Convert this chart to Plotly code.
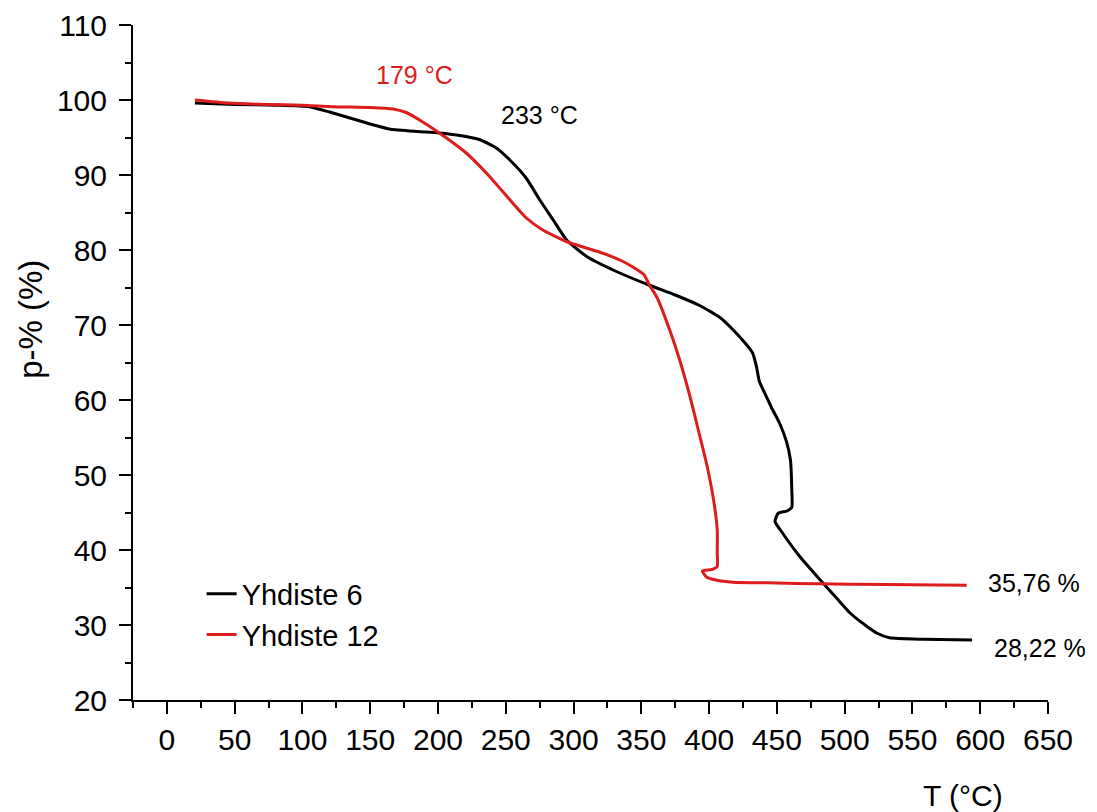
import plotly.graph_objects as go

# Yhdiste 6 (black)
t6 = [20.7, 50, 80, 105, 120, 135, 150, 165, 185, 201, 215, 231, 243, 253, 265, 275, 285, 295,
      310, 332, 356, 375, 393, 408, 418, 427, 432, 435, 437, 440, 446, 452, 457, 460, 461, 461,
      457.5, 451, 448.6, 454, 467, 482, 494, 504, 515, 524, 533, 558, 594]
p6 = [99.6, 99.4, 99.3, 99.1, 98.4, 97.6, 96.8, 96.1, 95.8, 95.6, 95.3, 94.7, 93.6, 92.0, 89.6,
      86.7, 84.0, 81.3, 79.1, 77.1, 75.3, 74.0, 72.6, 71.0, 69.3, 67.5, 66.3, 64.4, 62.5, 61.3,
      59.0, 56.9, 54.5, 52.0, 48.0, 45.7, 45.2, 44.9, 43.8, 42.3, 39.1, 36.0, 33.6, 31.6, 30.0,
      28.9, 28.3, 28.1, 28.0]

# Yhdiste 12 (red)
t12 = [20.7, 45, 74, 100, 122.5, 150, 167, 177, 186.7, 201, 221, 237, 253, 265, 277, 295, 319.5,
       335, 344, 352, 356, 361.5, 371, 378, 386, 392, 398, 403, 406, 406, 406, 402, 395, 398, 405,
       417.6, 450, 479.6, 530, 590]
p12 = [100.0, 99.6, 99.4, 99.3, 99.1, 99.0, 98.8, 98.3, 97.3, 95.6, 92.9, 90.0, 86.7, 84.3, 82.7,
       81.1, 79.7, 78.6, 77.7, 76.7, 75.3, 73.7, 69.3, 65.5, 60.4, 56.0, 51.6, 47.0, 42.7, 39.5,
       37.8, 37.4, 37.2, 36.4, 36.0, 35.7, 35.6, 35.5, 35.4, 35.3]

series_names = ["Yhdiste 6", "Yhdiste 12"]
series_colors = ["#000000", "#dd1c1c"]

x_ticks = list(range(0, 651, 50))
y_ticks = list(range(20, 111, 10))

FONT = "Liberation Sans, Arial, sans-serif"

fig = go.Figure()
fig.add_trace(go.Scatter(x=t6, y=p6, mode="lines", name=series_names[0],
                         line=dict(color=series_colors[0], width=3, shape="spline", smoothing=0.5)))
fig.add_trace(go.Scatter(x=t12, y=p12, mode="lines", name=series_names[1],
                         line=dict(color=series_colors[1], width=3, shape="spline", smoothing=0.5)))

axis_common = dict(showgrid=False, zeroline=False, showline=True, linecolor="black", linewidth=2,
                   ticks="outside", ticklen=12, tickwidth=2, tickcolor="black", automargin=False,
                   tickfont=dict(family=FONT, size=30, color="black"))

fig.update_xaxes(range=[-25, 650], tickvals=x_ticks, ticktext=[str(v) for v in x_ticks],
                 minor=dict(dtick=25, tick0=-25, ticks="outside", ticklen=6, tickwidth=2, tickcolor="black"),
                 **axis_common)
fig.update_yaxes(range=[20, 110], tickvals=y_ticks, ticktext=[str(v) for v in y_ticks],
                 ticklabelstandoff=6,
                 minor=dict(dtick=5, tick0=20, ticks="outside", ticklen=6, tickwidth=2, tickcolor="black"),
                 **axis_common)

fig.add_annotation(x=183, y=103.3, text="179 °C", showarrow=False,
                   font=dict(family=FONT, size=25, color=series_colors[1]))
fig.add_annotation(x=275, y=98, text="233 °C", showarrow=False,
                   font=dict(family=FONT, size=25, color="black"))
fig.add_annotation(x=640, y=35.6, text="35,76 %", showarrow=False,
                   font=dict(family=FONT, size=25, color="black"))
fig.add_annotation(x=644, y=26.9, text="28,22 %", showarrow=False,
                   font=dict(family=FONT, size=25, color="black"))
fig.add_annotation(xref="paper", yref="paper", x=0.907, y=-0.141, xanchor="center", yanchor="middle",
                   text="T (°C)", showarrow=False,
                   font=dict(family=FONT, size=30, color="black"))
fig.add_annotation(xref="paper", yref="paper", x=-0.112, y=0.564, xanchor="center", yanchor="middle",
                   text="p-% (%)", textangle=-90, showarrow=False,
                   font=dict(family=FONT, size=33, color="black"))

fig.update_layout(
    width=1089, height=804,
    margin=dict(l=125, r=49, t=17, b=112),
    plot_bgcolor="white", paper_bgcolor="white",
    font=dict(family=FONT, color="black"),
    legend=dict(x=0.075, y=0.195, xanchor="left", yanchor="top", bgcolor="rgba(0,0,0,0)",
                font=dict(family=FONT, size=29, color="black")),
)

fig.write_html("out.html")
